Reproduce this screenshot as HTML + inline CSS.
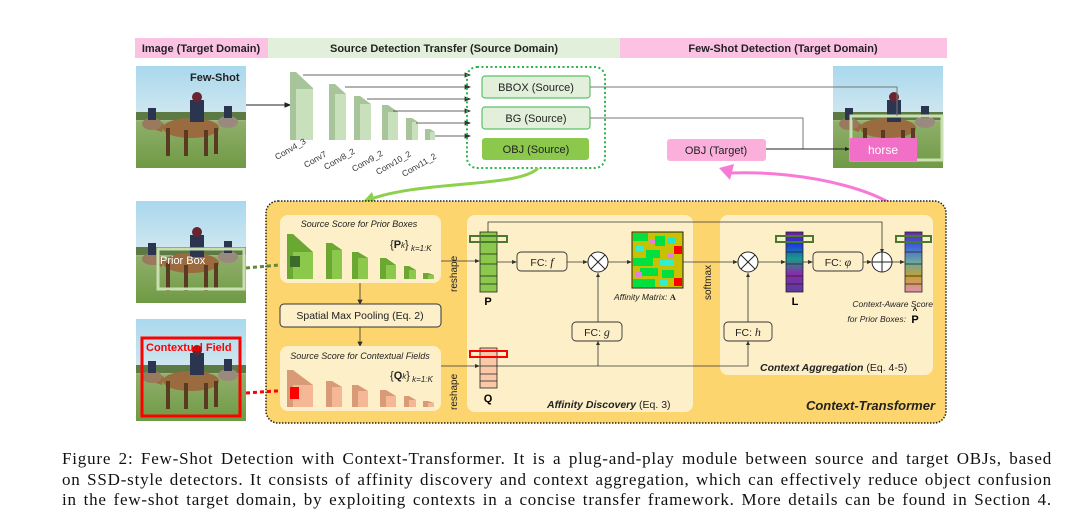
<!DOCTYPE html>
<html><head><meta charset="utf-8"><style>
body{margin:0;background:#fff;width:1089px;height:529px;overflow:hidden}
svg{display:block}
text{font-family:"Liberation Sans",sans-serif}
.cap{position:absolute;left:62px;top:449px;width:990px;font-family:"Liberation Serif",serif;font-size:17px;letter-spacing:0.8px;line-height:20.5px;color:#111}
.cap div{white-space:nowrap;text-align:justify;text-align-last:justify}
</style></head><body>
<svg width="1089" height="529" viewBox="0 0 1089 529">
<defs>
<linearGradient id="ph" x1="0" y1="0" x2="0" y2="1">
<stop offset="0" stop-color="#a9d8ee"/><stop offset="0.45" stop-color="#cde6ef"/><stop offset="0.55" stop-color="#8fae6a"/><stop offset="1" stop-color="#6f9a45"/></linearGradient>
<g id="photo">
<rect x="0" y="0" width="110" height="102" fill="url(#ph)"/>
<rect x="0" y="46" width="110" height="8" fill="#5d7a45"/>
<ellipse cx="55" cy="62" rx="28" ry="10" fill="#9a6b3e"/>
<rect x="30" y="62" width="4" height="28" fill="#5a3a20"/><rect x="48" y="64" width="4" height="26" fill="#5a3a20"/><rect x="68" y="64" width="4" height="26" fill="#5a3a20"/><rect x="78" y="62" width="4" height="26" fill="#5a3a20"/>
<path d="M28 58 L16 52 L14 62 L26 66Z" fill="#9a6b3e"/>
<rect x="54" y="34" width="14" height="22" fill="#2c3550"/><circle cx="61" cy="31" r="5" fill="#6a2330"/>
<ellipse cx="16" cy="58" rx="10" ry="6" fill="#9a7a5e"/><rect x="12" y="42" width="8" height="12" fill="#2c3550"/>
<ellipse cx="92" cy="56" rx="10" ry="6" fill="#9a8a7e"/><rect x="88" y="40" width="8" height="12" fill="#2c3550"/>
</g>
</defs>
<rect x="135" y="38" width="133" height="20" fill="#fbc2e4"/>
<rect x="268" y="38" width="352" height="20" fill="#e2efda"/>
<rect x="620" y="38" width="327" height="20" fill="#fbc2e4"/>
<g font-size="11" font-weight="bold" fill="#222" text-anchor="middle">
<text x="201" y="52">Image (Target Domain)</text>
<text x="444" y="52">Source Detection Transfer (Source Domain)</text>
<text x="783" y="52">Few-Shot Detection (Target Domain)</text>
</g>
<use href="#photo" x="136" y="66"/>
<text x="190" y="81" font-size="11" font-weight="bold" fill="#222">Few-Shot</text>
<use href="#photo" x="833" y="66"/>
<rect x="851" y="116" width="91" height="44" fill="none" stroke="#c8e0b0" stroke-width="3"/>
<rect x="850" y="138" width="67" height="23" fill="#f26fc8"/>
<text x="883" y="154" font-size="12" fill="#fff" text-anchor="middle">horse</text>
<g stroke="#222" stroke-width="1" fill="#222">
<line x1="246" y1="105" x2="288" y2="105"/><path d="M290 105 l-5 -2 v4z"/>
</g>
<g>
<polygon points="290,72 296,72 313,88 313,140 290,140" fill="#a8c49a"/><rect x="296" y="89" width="17" height="51" fill="#c9e0bd"/>
<polygon points="329,84 335,84 346,94 346,140 329,140" fill="#a8c49a"/><rect x="335" y="94" width="11" height="46" fill="#c9e0bd"/>
<polygon points="354,96 360,96 371,104 371,140 354,140" fill="#a8c49a"/><rect x="360" y="104" width="11" height="36" fill="#c9e0bd"/>
<polygon points="382,105 388,105 398,112 398,140 382,140" fill="#a8c49a"/><rect x="388" y="112" width="10" height="28" fill="#c9e0bd"/>
<polygon points="406,118 412,118 418,122 418,140 406,140" fill="#a8c49a"/><rect x="412" y="122" width="6" height="18" fill="#c9e0bd"/>
<polygon points="425,129 430,129 435,132 435,140 425,140" fill="#a8c49a"/><rect x="430" y="132" width="5" height="8" fill="#c9e0bd"/>
</g>
<g stroke="#333" stroke-width="0.8" fill="#333">
<line x1="303" y1="75" x2="468" y2="75"/><path d="M470 75 l-5 -2 v4z"/>
<line x1="345" y1="87" x2="468" y2="87"/><path d="M470 87 l-5 -2 v4z"/>
<line x1="367" y1="99" x2="468" y2="99"/><path d="M470 99 l-5 -2 v4z"/>
<line x1="393" y1="111" x2="468" y2="111"/><path d="M470 111 l-5 -2 v4z"/>
<line x1="416" y1="123" x2="468" y2="123"/><path d="M470 123 l-5 -2 v4z"/>
<line x1="435" y1="136" x2="468" y2="136"/><path d="M470 136 l-5 -2 v4z"/>
</g>
<g font-size="8.5" fill="#333">
<text transform="translate(277,160) rotate(-30)">Conv4_3</text>
<text transform="translate(306,168) rotate(-30)">Conv7</text>
<text transform="translate(326,170) rotate(-30)">Conv8_2</text>
<text transform="translate(354,172) rotate(-30)">Conv9_2</text>
<text transform="translate(378,175) rotate(-30)">Conv10_2</text>
<text transform="translate(404,177) rotate(-30)">Conv11_2</text>
</g>
<rect x="467" y="67" width="138" height="101" rx="10" fill="none" stroke="#2bb54a" stroke-width="2" stroke-dasharray="2,2.5"/>
<rect x="482" y="76" width="108" height="22" rx="3" fill="#e2efda" stroke="#5cc06a" stroke-width="1.2"/>
<rect x="482" y="107" width="108" height="22" rx="3" fill="#e2efda" stroke="#5cc06a" stroke-width="1.2"/>
<rect x="482" y="138" width="107" height="22" rx="3" fill="#8cc84b"/>
<g font-size="11" fill="#222" text-anchor="middle">
<text x="536" y="91">BBOX (Source)</text><text x="536" y="122">BG (Source)</text><text x="536" y="153">OBJ (Source)</text>
</g>
<g stroke="#777" stroke-width="1" fill="none">
<polyline points="590,87 897,87 897,116"/>
<polyline points="590,118 803,118 803,149"/>
</g>
<rect x="667" y="139" width="99" height="22" rx="3" fill="#fbb0dc"/>
<text x="716" y="154" font-size="11" fill="#222" text-anchor="middle">OBJ (Target)</text>
<line x1="766" y1="149" x2="846" y2="149" stroke="#222" stroke-width="1"/><path d="M850 149 l-5 -2 v4z" fill="#222"/>
<path d="M538 168 C520 188 420 180 368 200" stroke="#8cd04b" stroke-width="3" fill="none"/>
<path d="M358 207 L372 192 L376 205Z" fill="#8cd04b"/>
<path d="M917 232 C905 190 800 170 730 173" stroke="#f77bd6" stroke-width="3" fill="none"/>
<path d="M719 168 L734 164 L730 180Z" fill="#f77bd6"/>
<use href="#photo" x="136" y="201"/>
<rect x="158" y="249" width="86" height="40" fill="none" stroke="#c8e0b0" stroke-width="3"/>
<text x="160" y="264" font-size="11" fill="#fff">Prior Box</text>
<use href="#photo" x="136" y="319"/>
<rect x="142" y="338" width="98" height="78" fill="none" stroke="#ff0000" stroke-width="3"/>
<text x="146" y="351" font-size="11" font-weight="bold" fill="#ff0000">Contextual Field</text>
<rect x="266" y="201" width="680" height="222" rx="12" fill="#fdd56f" stroke="#222" stroke-width="1.5" stroke-dasharray="1.5,1.5"/>
<line x1="246" y1="268" x2="290" y2="264" stroke="#5f8a3a" stroke-width="3" stroke-dasharray="4,3"/>
<line x1="246" y1="393" x2="290" y2="390" stroke="#ff0000" stroke-width="3" stroke-dasharray="4,3"/>
<rect x="280" y="215" width="161" height="68" rx="8" fill="#fdf0c8"/>
<text x="359" y="227" font-size="9" font-style="italic" fill="#222" text-anchor="middle">Source Score for Prior Boxes</text>
<g>
<polygon points="287,234 293,234 313,252 313,279 287,279" fill="#6aa832"/><rect x="293" y="252" width="20" height="27" fill="#8cc84b"/>
<rect x="290" y="256" width="10" height="11" fill="#3d6b2a"/>
<polygon points="326,243 332,243 342,250 342,279 326,279" fill="#6aa832"/><rect x="332" y="250" width="10" height="29" fill="#8cc84b"/>
<polygon points="352,252 358,252 368,258 368,279 352,279" fill="#6aa832"/><rect x="358" y="258" width="10" height="21" fill="#8cc84b"/>
<polygon points="380,258 386,258 396,265 396,279 380,279" fill="#6aa832"/><rect x="386" y="265" width="10" height="14" fill="#8cc84b"/>
<polygon points="404,266 409,266 416,270 416,279 404,279" fill="#6aa832"/><rect x="409" y="270" width="7" height="9" fill="#8cc84b"/>
<polygon points="423,273 428,273 434,275 434,279 423,279" fill="#6aa832"/><rect x="428" y="275" width="6" height="4" fill="#8cc84b"/>
</g>
<text x="390" y="248" font-family="Liberation Serif" font-size="11" fill="#222">{<tspan font-weight="bold">P</tspan><tspan font-size="8" font-style="italic">k</tspan>}<tspan font-size="8" font-style="italic" dy="3"> k=1:K</tspan></text>
<rect x="280" y="304" width="161" height="23" rx="4" fill="#fdf0c8" stroke="#333" stroke-width="1"/>
<text x="360" y="319" font-size="10.5" fill="#222" text-anchor="middle">Spatial Max Pooling (Eq. 2)</text>
<g stroke="#333" stroke-width="0.8" fill="#333">
<line x1="360" y1="283" x2="360" y2="302"/><path d="M360 304 l-2 -4 h4z"/>
<line x1="360" y1="327" x2="360" y2="343"/><path d="M360 346 l-2 -4 h4z"/>
</g>
<rect x="280" y="346" width="161" height="65" rx="8" fill="#fdf0c8"/>
<text x="360" y="359" font-size="9" font-style="italic" fill="#222" text-anchor="middle">Source Score for Contextual Fields</text>
<text x="390" y="379" font-family="Liberation Serif" font-size="11" fill="#222">{<tspan font-weight="bold">Q</tspan><tspan font-size="8" font-style="italic">k</tspan>}<tspan font-size="8" font-style="italic" dy="3"> k=1:K</tspan></text>
<g>
<polygon points="287,370 293,370 313,385 313,407 287,407" fill="#d99a78"/><rect x="293" y="385" width="20" height="22" fill="#f4b896"/>
<rect x="290" y="387" width="9" height="12" fill="#ff0000"/>
<polygon points="326,381 332,381 342,387 342,407 326,407" fill="#d99a78"/><rect x="332" y="387" width="10" height="20" fill="#f4b896"/>
<polygon points="352,385 358,385 368,391 368,407 352,407" fill="#d99a78"/><rect x="358" y="391" width="10" height="16" fill="#f4b896"/>
<polygon points="380,390 386,390 396,396 396,407 380,407" fill="#d99a78"/><rect x="386" y="396" width="10" height="11" fill="#f4b896"/>
<polygon points="404,396 409,396 416,400 416,407 404,407" fill="#d99a78"/><rect x="409" y="400" width="7" height="7" fill="#f4b896"/>
<polygon points="423,401 428,401 434,403 434,407 423,407" fill="#d99a78"/><rect x="428" y="403" width="6" height="4" fill="#f4b896"/>
</g>
<rect x="467" y="215" width="226" height="197" rx="8" fill="#fdf0c8"/>
<rect x="720" y="215" width="213" height="160" rx="8" fill="#fdf0c8"/>
<text transform="translate(457,292) rotate(-90)" font-size="10" fill="#222">reshape</text>
<text transform="translate(457,410) rotate(-90)" font-size="10" fill="#222">reshape</text>
<text transform="translate(711,300) rotate(-90)" font-size="10" fill="#222">softmax</text>
<g stroke="#333" stroke-width="0.8" fill="none">
<line x1="441" y1="261" x2="478" y2="261"/>
<line x1="441" y1="366" x2="478" y2="366"/>
<polyline points="488,232 488,222 882,222 882,255"/>
<line x1="497" y1="262" x2="515" y2="262"/>
<line x1="567" y1="262" x2="587" y2="262"/>
<line x1="608" y1="262" x2="630" y2="262"/>
<line x1="683" y1="262" x2="737" y2="262"/>
<line x1="758" y1="262" x2="784" y2="262"/>
<line x1="803" y1="262" x2="811" y2="262"/>
<line x1="863" y1="262" x2="871" y2="262"/>
<line x1="892" y1="262" x2="903" y2="262"/>
<polyline points="497,366 748,366 748,340"/>
<line x1="598" y1="366" x2="598" y2="341"/>
<line x1="598" y1="322" x2="598" y2="273"/>
<line x1="748" y1="322" x2="748" y2="273"/>
</g>
<g fill="#333">
<path d="M480 261 l-5 -2 v4z"/><path d="M480 366 l-5 -2 v4z"/>
<path d="M517 262 l-5 -2 v4z"/><path d="M588 262 l-5 -2 v4z"/><path d="M632 262 l-5 -2 v4z"/>
<path d="M738 262 l-5 -2 v4z"/><path d="M786 262 l-5 -2 v4z"/><path d="M813 262 l-5 -2 v4z"/>
<path d="M872 262 l-5 -2 v4z"/><path d="M905 262 l-5 -2 v4z"/>
<path d="M598 341 l-2 4 h4z"/><path d="M598 273 l-2 4 h4z"/><path d="M748 341 l-2 4 h4z"/><path d="M748 273 l-2 4 h4z"/><path d="M882 253 l-2 -4 h4z"/>
</g>
<rect x="480" y="232" width="17" height="60" fill="#8cc84b" stroke="#222" stroke-width="0.8"/>
<g stroke="#222" stroke-width="0.7"><line x1="480" y1="242" x2="497" y2="242"/><line x1="480" y1="254" x2="497" y2="254"/><line x1="480" y1="264" x2="497" y2="264"/><line x1="480" y1="276" x2="497" y2="276"/><line x1="480" y1="284" x2="497" y2="284"/></g>
<rect x="470" y="236" width="37" height="6" fill="none" stroke="#4a7a30" stroke-width="2"/>
<text x="488" y="305" font-family="Liberation Serif" font-size="11" font-weight="bold" text-anchor="middle">P</text>
<rect x="480" y="348" width="17" height="40" fill="#f8c8a8" stroke="#222" stroke-width="0.8"/>
<g stroke="#222" stroke-width="0.7"><line x1="480" y1="357" x2="497" y2="357"/><line x1="480" y1="366" x2="497" y2="366"/><line x1="480" y1="374" x2="497" y2="374"/><line x1="480" y1="381" x2="497" y2="381"/></g>
<rect x="470" y="351" width="37" height="6" fill="none" stroke="#ff0000" stroke-width="2"/>
<text x="488" y="402" font-family="Liberation Serif" font-size="11" font-weight="bold" text-anchor="middle">Q</text>
<g fill="#fdf0c8" stroke="#333" stroke-width="0.9">
<rect x="517" y="252" width="50" height="19" rx="4"/><rect x="572" y="322" width="50" height="19" rx="4"/>
<rect x="724" y="322" width="48" height="19" rx="4"/><rect x="813" y="252" width="50" height="19" rx="4"/>
</g>
<g font-size="10.5" fill="#222" text-anchor="middle">
<text x="542" y="266">FC: <tspan font-family="Liberation Serif" font-style="italic" font-size="12">f</tspan></text>
<text x="597" y="336">FC: <tspan font-family="Liberation Serif" font-style="italic" font-size="12">g</tspan></text>
<text x="748" y="336">FC: <tspan font-family="Liberation Serif" font-style="italic" font-size="12">h</tspan></text>
<text x="838" y="266">FC: <tspan font-family="Liberation Serif" font-style="italic" font-size="12">φ</tspan></text>
</g>
<g fill="#fff" stroke="#222" stroke-width="1">
<circle cx="598" cy="262" r="10"/><circle cx="748" cy="262" r="10"/><circle cx="882" cy="262" r="10"/>
</g>
<g stroke="#222" stroke-width="1">
<line x1="591" y1="255" x2="605" y2="269"/><line x1="605" y1="255" x2="591" y2="269"/>
<line x1="741" y1="255" x2="755" y2="269"/><line x1="755" y1="255" x2="741" y2="269"/>
<line x1="872" y1="262" x2="892" y2="262"/><line x1="882" y1="252" x2="882" y2="272"/>
</g>
<rect x="632" y="232" width="51" height="56" fill="#c8c000" stroke="#222" stroke-width="1"/>
<g>
<rect x="633" y="233" width="15" height="8" fill="#00e040"/><rect x="655" y="236" width="10" height="10" fill="#00e040"/><rect x="668" y="238" width="8" height="6" fill="#20e8c8"/>
<rect x="636" y="246" width="8" height="5" fill="#30f0d0"/><rect x="646" y="250" width="14" height="8" fill="#00e040"/><rect x="674" y="246" width="8" height="8" fill="#ff0000"/>
<rect x="633" y="258" width="20" height="8" fill="#00e040"/><rect x="660" y="260" width="14" height="6" fill="#30f0d0"/>
<rect x="640" y="268" width="18" height="8" fill="#00e040"/><rect x="662" y="270" width="12" height="8" fill="#00e040"/><rect x="636" y="272" width="6" height="5" fill="#e080e0"/>
<rect x="633" y="279" width="22" height="8" fill="#00e040"/><rect x="660" y="280" width="8" height="6" fill="#30f0d0"/><rect x="674" y="278" width="8" height="8" fill="#ff0000"/>
<rect x="650" y="240" width="5" height="4" fill="#e080e0"/><rect x="668" y="254" width="6" height="4" fill="#e080e0"/>
</g>
<text x="614" y="300" font-size="8.5" font-style="italic" fill="#222">Affinity Matrix: <tspan font-family="Liberation Serif" font-weight="bold" font-style="normal">A</tspan></text>
<text x="547" y="408" font-size="10.5" font-weight="bold" font-style="italic" fill="#222">Affinity Discovery <tspan font-weight="normal" font-style="normal">(Eq. 3)</tspan></text>
<defs>
<linearGradient id="lg" x1="0" y1="0" x2="0" y2="1"><stop offset="0" stop-color="#7a1aa0"/><stop offset="0.2" stop-color="#1a3ae0"/><stop offset="0.45" stop-color="#1a9a8a"/><stop offset="0.7" stop-color="#8a2aa8"/><stop offset="1" stop-color="#5a3aa0"/></linearGradient>
<linearGradient id="pg" x1="0" y1="0" x2="0" y2="1"><stop offset="0" stop-color="#6a2aa0"/><stop offset="0.2" stop-color="#3a5ae0"/><stop offset="0.5" stop-color="#6aa8a0"/><stop offset="0.75" stop-color="#c8a030"/><stop offset="1" stop-color="#e090b0"/></linearGradient>
</defs>
<rect x="786" y="232" width="17" height="60" fill="url(#lg)" stroke="#222" stroke-width="0.8"/>
<g stroke="#222" stroke-width="0.7"><line x1="786" y1="252" x2="803" y2="252"/><line x1="786" y1="264" x2="803" y2="264"/><line x1="786" y1="276" x2="803" y2="276"/><line x1="786" y1="284" x2="803" y2="284"/></g>
<rect x="776" y="236" width="37" height="6" fill="none" stroke="#4a7a30" stroke-width="2"/>
<text x="795" y="305" font-family="Liberation Serif" font-size="11" font-weight="bold" text-anchor="middle">L</text>
<rect x="905" y="232" width="17" height="60" fill="url(#pg)" stroke="#222" stroke-width="0.8"/>
<g stroke="#222" stroke-width="0.7"><line x1="905" y1="252" x2="922" y2="252"/><line x1="905" y1="264" x2="922" y2="264"/><line x1="905" y1="276" x2="922" y2="276"/><line x1="905" y1="284" x2="922" y2="284"/></g>
<rect x="896" y="236" width="35" height="6" fill="none" stroke="#4a7a30" stroke-width="2"/>
<text x="933" y="307" font-size="8.5" font-style="italic" fill="#222" text-anchor="end">Context-Aware Score</text>
<text x="906" y="322" font-size="8.5" font-style="italic" fill="#222" text-anchor="end">for Prior Boxes:</text>
<text x="915" y="323" font-family="Liberation Serif" font-size="11" font-weight="bold" text-anchor="middle">P</text>
<text x="915" y="313" font-size="8" font-weight="bold" text-anchor="middle">^</text>
<text x="760" y="371" font-size="10.5" font-weight="bold" font-style="italic" fill="#222">Context Aggregation <tspan font-weight="normal" font-style="normal">(Eq. 4-5)</tspan></text>
<text x="935" y="410" font-size="13" font-weight="bold" font-style="italic" fill="#222" text-anchor="end">Context-Transformer</text>
</svg>
<div class="cap">
<div>Figure 2: Few-Shot Detection with Context-Transformer. It is a plug-and-play module between source and target OBJs, based</div>
<div>on SSD-style detectors. It consists of affinity discovery and context aggregation, which can effectively reduce object confusion</div>
<div>in the few-shot target domain, by exploiting contexts in a concise transfer framework. More details can be found in Section 4.</div>
</div>
</body></html>
